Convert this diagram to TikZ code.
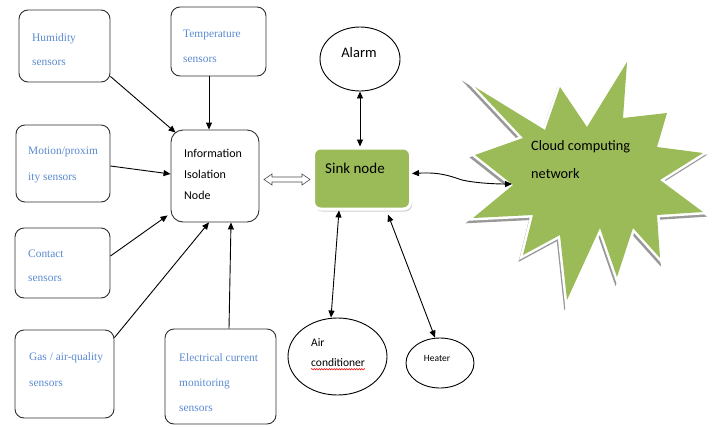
\documentclass[tikz,border=0pt]{standalone}
\usepackage{fontspec}
\setmainfont{Liberation Serif}
\newfontfamily\carl{Carlito}
\usetikzlibrary{arrows.meta,shadows,calc,decorations.pathmorphing,shapes.geometric}
\definecolor{sensblue}{HTML}{5B8AD2}
\definecolor{leaf}{HTML}{9BBB59}
\definecolor{boxline}{HTML}{303030}
\begin{document}
\begin{tikzpicture}[x=1pt,y=-1pt,
  sensorbox/.style={draw=boxline,line width=0.9pt,rounded corners=9pt,fill=white,inner sep=0pt},
  stext/.style={anchor=west,inner sep=0pt,text=sensblue,font=\fontsize{11.4}{13}\selectfont},
  ctext/.style={anchor=west,inner sep=0pt,text=black,font=\carl\fontsize{12}{14}\selectfont},
  oval/.style={draw=black,line width=0.9pt,ellipse,fill=white,inner sep=0pt},
  conn/.style={draw=black,line width=0.9pt,-{Triangle[length=7pt,width=6pt]}},
  biconn/.style={draw=black,line width=0.9pt,{Triangle[length=7pt,width=6pt]}-{Triangle[length=7pt,width=6pt]}}
]
\useasboundingbox (0,0) rectangle (712,426);
% sensor boxes
\node[sensorbox,minimum width=91pt,minimum height=72pt] (hum) at (64.5,46) {};
\node[sensorbox,minimum width=95pt,minimum height=69pt] (temp) at (218.5,41.5) {};
\node[sensorbox,minimum width=94pt,minimum height=77pt] (mot) at (63,163.5) {};
\node[sensorbox,minimum width=95pt,minimum height=70pt] (con) at (62.5,263) {};
\node[sensorbox,minimum width=99pt,minimum height=88pt] (gas) at (64.5,374) {};
\node[sensorbox,minimum width=111pt,minimum height=95pt] (elec) at (220.5,376.5) {};
\node[sensorbox,rounded corners=12pt,minimum width=88pt,minimum height=92pt] (info) at (215,176) {};
% texts
\node[stext] (humt1) at (32,39) {Humidity};
\node[stext] (humt2) at (32,63) {sensors};
\node[stext] (tempt1) at (183,35) {Temperature};
\node[stext] (tempt2) at (183,60) {sensors};
\node[stext] (mott1) at (28,152) {Motion/proxim};
\node[stext] (mott2) at (28,178) {ity sensors};
\node[stext] (cont1) at (28,254) {Contact};
\node[stext] (cont2) at (28,279) {sensors};
\node[stext] (gast1) at (29,358) {Gas / air-quality};
\node[stext] (gast2) at (29,384) {sensors};
\node[stext] (elect1) at (179,358) {Electrical current};
\node[stext] (elect2) at (179,384) {monitoring};
\node[stext] (elect3) at (179,409) {sensors};
\node[ctext] (infot1) at (184,153) {Information};
\node[ctext] (infot2) at (184,174) {Isolation};
\node[ctext] (infot3) at (184,195) {Node};
% sink node
\node[draw=white,line width=3pt,fill=leaf,rounded corners=7pt,minimum width=97pt,minimum height=61pt,
  drop shadow={shadow xshift=1.5pt,shadow yshift=-2.5pt,fill=black!35}] (sink) at (362,178.5) {};
\node[ctext,font=\carl\fontsize{15}{17}\selectfont] (sinkt) at (325,168) {Sink node};
% ellipses
\node[oval,minimum width=80pt,minimum height=64pt] (alarm) at (360,59) {};
\node[ctext,font=\carl\fontsize{14.5}{16}\selectfont,anchor=center] (alarmt) at (359,53) {Alarm};
\node[oval,minimum width=99pt,minimum height=77pt] (ac) at (337.5,356.5) {};
\node[ctext,font=\carl\fontsize{11.5}{13}\selectfont] (act1) at (311,343) {Air};
\node[ctext,font=\carl\fontsize{11.5}{13}\selectfont] (act2) at (311,363) {conditioner};
\draw[red,line width=0.5pt,decorate,decoration={snake,amplitude=0.7pt,segment length=2.5pt}] (act2.south west) ++(0,2) -- ($(act2.south east)+(0,2)$);
\node[oval,minimum width=68pt,minimum height=50pt] (heat) at (440,363) {};
\node[ctext,font=\carl\fontsize{9.5}{11}\selectfont,anchor=center] (heatt) at (437,358) {Heater};
% cloud starburst
\def\burst{(475,87) -- (545,130) -- (560,87) -- (587,127) -- (627,62) -- (623,118) -- (667,113) -- (657,147) -- (703,153) -- (660,180) -- (703,212) -- (657,215) -- (660,258) -- (633,228) -- (617,277) -- (600,228) -- (567,300) -- (560,235) -- (523,255) -- (533,215) -- (473,218) -- (513,185) -- (475,155) -- (523,138) -- cycle}
\draw[black!40,line width=4pt,line join=miter,miter limit=10,fill=black!40,shift={(-1.5,3)}] \burst;
\draw[white,line width=5pt,line join=miter,miter limit=10,fill=white] \burst;
\fill[leaf] \burst;
\node[ctext,font=\carl\fontsize{14.3}{16}\selectfont] (cloud1) at (531,147) {Cloud computing};
\node[ctext,font=\carl\fontsize{14.3}{16}\selectfont] (cloud2) at (531,174) {network};
\coordinate (cloudin) at (512,184);
% connectors
\draw[conn] ($(hum.south east)+(0,-6)$) -- ($(info.north west)+(5,3)$);
\draw[conn] (temp.south -| 209,0) -- (info.north -| 209,0);
\draw[conn] ($(mot.east)+(0,2.5)$) -- ($(info.west)+(0,-2)$);
\draw[conn] ($(con.east)+(0,-7)$) -- ($(info.south west)+(-3,-7)$);
\draw[conn] ($(gas.north east)+(0,8)$) -- (info.south -| 209,0);
\draw[conn] (elec.north -| 229,0) -- (info.south -| 231,0);
\draw[biconn] (alarm.south) -- (sink.north -| alarm.south);
\draw[biconn] ($(sink.east)+(0,-5)$) .. controls (440,172) and (450,176) .. (462,180) .. controls (475,183) and (495,184) .. (cloudin);
\draw[biconn] (sink.south -| 339,0) -- (ac.north -| 331,0);
\draw[biconn] ($(sink.south east)+(-24,4)$) -- (heat.north -| 435,0);
% hollow double arrow
\draw[draw=black!70,fill=white,line width=0.6pt,line join=miter]
  (264,179.5) -- (272,174) -- (272,177) -- (302,177) -- (302,174) -- (310,179.5)
  -- (302,185) -- (302,182) -- (272,182) -- (272,185) -- cycle;
\end{tikzpicture}
\end{document}
